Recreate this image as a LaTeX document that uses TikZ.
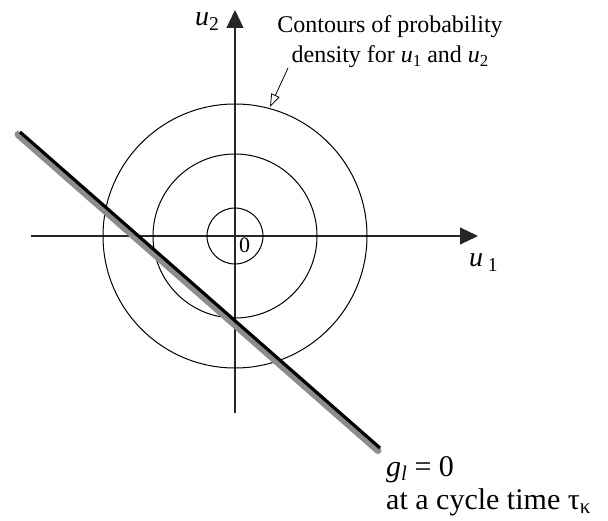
\documentclass[tikz,border=0pt]{standalone}
\usepackage{fontspec}
\usepackage{graphicx}
\setmainfont{Liberation Serif}
\usetikzlibrary{arrows.meta}
\newcommand\lowsub[1]{\raisebox{-0.35ex}{\scalebox{0.7}{#1}}}
\begin{document}
\begin{tikzpicture}[x=1pt,y=-1pt,
  axis/.style={line width=1.1pt, draw=black!85, -{Triangle[length=18pt,width=17pt]}},
  contour/.style={line width=1pt},
  lbl/.style={inner sep=0pt, font=\fontsize{28}{30}\selectfont},
  note/.style={inner sep=0pt, font=\fontsize{24}{26}\selectfont},
  zerolbl/.style={inner sep=0pt, font=\fontsize{22}{24}\selectfont},
  bottomtxt/.style={inner sep=0pt, font=\fontsize{30}{30}\selectfont}]
\useasboundingbox (0,0) rectangle (608,521);
\coordinate (O) at (235,236);
\coordinate (xl) at (31,236);
\coordinate (xr) at (478,236);
\coordinate (yb) at (235,413);
\coordinate (yt) at (235,10);
\draw[axis] (xl) -- (xr);
\draw[axis] (yb) -- (yt);
\draw[contour] (O) circle[radius=28pt];
\draw[contour] (O) circle[radius=82pt];
\draw[contour] (O) circle[radius=132pt];
% limit line g_l = 0
\coordinate (gA) at (18,134.5);
\coordinate (gB) at (378,450.5);
\coordinate (bA) at (20,132);
\coordinate (bB) at (380,448);
\draw[line width=7pt, draw=black!45, line cap=round] (gA) -- (gB);
\draw[line width=3.2pt] (bA) -- (bB);
% labels
\node[lbl, anchor=base west] (u1) at (469,267) {\textit{u}\,\lowsub{1}};
\node[lbl, anchor=base east] (u2) at (219,26) {\textit{u}\lowsub{2}};
\node[zerolbl, anchor=base west] (zero) at (239,253) {0};
\node[note, anchor=base] (t1) at (390,33) {Contours of probability};
\node[note, anchor=base] (t2) at (390,63) {density for \textit{u}\lowsub{1} and \textit{u}\lowsub{2}};
\coordinate (annS) at (288,68);
\coordinate (annT) at (270,107);
\draw[line width=0.8pt, -{Triangle[open,length=13pt,width=9pt]}] (annS) -- (annT);
\node[bottomtxt, anchor=base west] (g) at (386,476) {\textit{g}\lowsub{\textit{l}} = 0};
\node[bottomtxt, anchor=base west] (tau) at (386,509) {at a cycle time τ\lowsub{κ}};
\end{tikzpicture}
\end{document}
